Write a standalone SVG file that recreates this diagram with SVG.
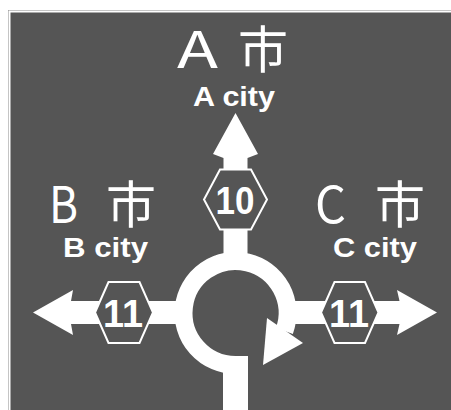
<svg xmlns="http://www.w3.org/2000/svg" width="451" height="410" viewBox="0 0 451 410">
  <style>
    .panel { fill: #555555; }
    .road { fill: #ffffff; }
    .ring { fill: none; stroke: #ffffff; stroke-width: 18; }
    .hex { fill: #555555; stroke: #ffffff; stroke-width: 2; }
    .big { font-family: "Noto Sans CJK JP", "Noto Sans CJK SC", sans-serif; font-size: 50px; fill: #ffffff; }
    .en { font-family: "Liberation Sans", Arial, sans-serif; font-weight: bold; font-size: 28px; fill: #ffffff; text-anchor: middle; }
    .num { font-family: "Liberation Sans", Arial, sans-serif; font-weight: bold; font-size: 39px; fill: #ffffff; text-anchor: middle; }
  </style>

  <!-- sign panel with inner white rule -->
  <rect width="451" height="410" fill="#ffffff"/>
  <rect x="8" y="10" width="443" height="400" fill="#8a8a8a"/>
  <rect class="panel" x="9.5" y="11.5" width="443" height="400" stroke="#ffffff" stroke-width="2"/>

  <!-- roads: arms, roundabout ring and exit arrows -->
  <g id="roads">
    <!-- north arm to A -->
    <polygon class="road" points="235.5,113 258,154 247.5,158 247.5,264 223.5,264 223.5,158 213,154"/>
    <!-- west arm to B -->
    <polygon class="road" points="33,312.5 73,290 71,301 186,301 186,324 71,324 73,335"/>
    <!-- east arm to C -->
    <polygon class="road" points="437,312.5 397,290 399.5,301 285,301 285,324 399.5,324 397,335"/>
    <!-- south approach -->
    <rect class="road" x="223" y="356" width="25" height="60"/>
    <!-- circulating ring, clockwise from the south approach -->
    <path class="ring" d="M235.5,365 A52,52 0 1 1 284.4,330.8"/>
    <polygon class="road" points="267,318 303,343 263,365"/>
  </g>

  <!-- route shields -->
  <g id="route-10">
    <polygon class="hex" points="204,199.5 220,169.5 251,169.5 267,199.5 251,229.5 220,229.5"/>
    <text class="num" x="235" y="214" textLength="39" lengthAdjust="spacingAndGlyphs">10</text>
  </g>
  <g id="route-11-west">
    <polygon class="hex" points="95,312.5 108.5,282 139.5,282 153,312.5 139.5,343 108.5,343"/>
    <text class="num" x="123" y="327" textLength="40" lengthAdjust="spacingAndGlyphs">11</text>
  </g>
  <g id="route-11-east">
    <polygon class="hex" points="321,312.5 334.5,282 365,282 378.5,312.5 365,343 334.5,343"/>
    <text class="num" x="349" y="327" textLength="40" lengthAdjust="spacingAndGlyphs">11</text>
  </g>

  <!-- destinations -->
  <g id="dest-a">
    <text class="big" y="68"><tspan x="177" textLength="41" lengthAdjust="spacingAndGlyphs">A</tspan> <tspan x="238">市</tspan></text>
    <text class="en" x="234" y="106" textLength="82" lengthAdjust="spacingAndGlyphs">A city</text>
  </g>
  <g id="dest-b">
    <text class="big" y="223"><tspan x="49" textLength="29" lengthAdjust="spacingAndGlyphs">B</tspan> <tspan x="106">市</tspan></text>
    <text class="en" x="105.5" y="257" textLength="85" lengthAdjust="spacingAndGlyphs">B city</text>
  </g>
  <g id="dest-c">
    <text class="big" y="223"><tspan x="315" textLength="31" lengthAdjust="spacingAndGlyphs">C</tspan> <tspan x="375">市</tspan></text>
    <text class="en" x="375" y="257" textLength="84" lengthAdjust="spacingAndGlyphs">C city</text>
  </g>
</svg>
